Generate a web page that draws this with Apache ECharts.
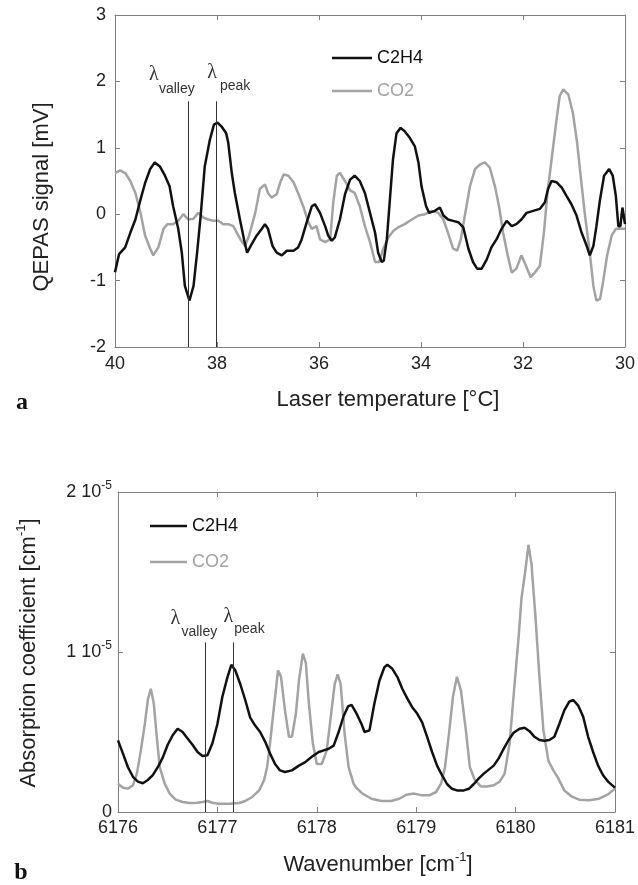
<!DOCTYPE html>
<html>
<head>
<meta charset="utf-8">
<script src="https://cdn.jsdelivr.net/npm/echarts@6/dist/echarts.min.js"></script>
<style>
html,body{margin:0;padding:0;background:#fff;}
#c{width:638px;height:885px;}
</style>
</head>
<body>
<div id="c"></div>
<script>
// ---------- Panel a: QEPAS signal vs laser temperature ----------
var tempC2H4 = [40.0,39.92,39.8,39.7,39.6,39.5,39.41,39.31,39.22,39.12,39.02,38.93,38.86,38.76,38.69,38.63,38.54,38.46,38.39,38.32,38.24,38.14,38.06,37.99,37.91,37.82,37.78,37.71,37.65,37.55,37.47,37.41,37.32,37.22,37.12,37.06,37.0,36.91,36.83,36.73,36.63,36.5,36.41,36.34,36.24,36.14,36.08,35.98,35.88,35.82,35.75,35.69,35.59,35.49,35.39,35.3,35.2,35.1,35.0,34.9,34.84,34.77,34.73,34.67,34.61,34.55,34.48,34.4,34.32,34.22,34.12,34.05,33.99,33.9,33.84,33.73,33.63,33.56,33.47,33.37,33.27,33.17,33.07,32.98,32.9,32.81,32.71,32.62,32.52,32.42,32.32,32.22,32.13,32.03,31.93,31.8,31.67,31.57,31.51,31.44,31.34,31.24,31.15,31.05,30.95,30.85,30.75,30.69,30.62,30.56,30.49,30.41,30.31,30.24,30.18,30.13,30.09,30.05,30.0];
var qepasC2H4 = [-0.875,-0.6,-0.5,-0.28,-0.08,0.22,0.47,0.68,0.78,0.72,0.58,0.42,0.12,-0.22,-0.58,-1.08,-1.3,-1.08,-0.58,-0.02,0.72,1.12,1.35,1.38,1.32,1.22,1.08,0.62,0.32,-0.08,-0.38,-0.58,-0.45,-0.32,-0.22,-0.15,-0.22,-0.48,-0.58,-0.62,-0.55,-0.55,-0.5,-0.38,-0.12,0.12,0.15,0.02,-0.18,-0.32,-0.4,-0.35,-0.08,0.3,0.52,0.58,0.5,0.32,0.02,-0.28,-0.58,-0.72,-0.7,-0.38,0.22,0.82,1.22,1.3,1.25,1.15,1.02,0.78,0.42,0.12,0.02,0.05,0.1,-0.02,-0.08,-0.1,-0.12,-0.2,-0.52,-0.72,-0.82,-0.82,-0.68,-0.5,-0.38,-0.22,-0.1,-0.18,-0.15,-0.08,0.02,0.05,0.08,0.18,0.38,0.5,0.48,0.4,0.28,0.15,-0.02,-0.28,-0.48,-0.62,-0.48,-0.18,0.22,0.58,0.68,0.58,0.28,-0.18,-0.18,0.1,-0.15];
var tempCO2 = [40.0,39.9,39.8,39.7,39.6,39.5,39.41,39.31,39.25,39.15,39.05,38.97,38.86,38.76,38.66,38.56,38.46,38.37,38.27,38.17,38.07,37.97,37.88,37.78,37.68,37.61,37.54,37.45,37.37,37.25,37.16,37.06,37.0,36.93,36.83,36.76,36.69,36.6,36.5,36.41,36.31,36.21,36.14,36.05,35.98,35.88,35.78,35.72,35.65,35.59,35.49,35.39,35.3,35.2,35.1,35.0,34.9,34.82,34.74,34.64,34.54,34.45,34.32,34.18,34.05,33.92,33.79,33.66,33.56,33.47,33.37,33.29,33.22,33.14,33.04,32.94,32.84,32.75,32.65,32.55,32.47,32.39,32.3,32.22,32.13,32.03,31.94,31.85,31.77,31.67,31.59,31.52,31.44,31.35,31.28,31.21,31.11,31.02,30.94,30.87,30.79,30.7,30.62,30.56,30.49,30.43,30.35,30.26,30.18,30.07,30.0];
var qepasCO2 = [0.62,0.66,0.62,0.5,0.32,0.02,-0.32,-0.52,-0.62,-0.5,-0.22,-0.15,-0.15,-0.1,0.0,-0.08,-0.07,0.02,-0.05,-0.08,-0.1,-0.1,-0.15,-0.15,-0.18,-0.28,-0.38,-0.48,-0.32,0.02,0.38,0.45,0.32,0.25,0.3,0.48,0.6,0.58,0.48,0.32,0.12,-0.12,-0.22,-0.18,-0.38,-0.42,-0.38,0.18,0.58,0.62,0.5,0.36,0.32,0.12,-0.18,-0.42,-0.72,-0.72,-0.52,-0.35,-0.25,-0.2,-0.15,-0.08,-0.02,0.0,0.05,0.02,-0.08,-0.28,-0.52,-0.55,-0.38,-0.02,0.42,0.68,0.75,0.78,0.7,0.42,0.12,-0.28,-0.62,-0.88,-0.82,-0.62,-0.78,-0.95,-0.88,-0.78,-0.28,0.32,0.82,1.38,1.78,1.88,1.8,1.52,1.08,0.58,0.02,-0.52,-1.08,-1.3,-1.28,-1.02,-0.62,-0.32,-0.22,-0.22,-0.22];
var tempTicks = {min: 30, max: 40, step: 2};
var qepasTicks = {min: -2, max: 3, step: 1};
var lambdaTempA = {valley: 38.57, peak: 38.02, top: 1.7};

// ---------- Panel b: absorption coefficient (units of 1e-5 cm^-1) vs wavenumber ----------
var wnC2H4 = [6176.0,6176.05,6176.1,6176.15,6176.2,6176.25,6176.3,6176.35,6176.4,6176.45,6176.5,6176.55,6176.6,6176.65,6176.7,6176.75,6176.8,6176.85,6176.9,6176.95,6177.0,6177.05,6177.1,6177.14,6177.18,6177.23,6177.28,6177.33,6177.38,6177.43,6177.48,6177.53,6177.58,6177.63,6177.68,6177.75,6177.82,6177.88,6177.95,6178.02,6178.07,6178.12,6178.17,6178.22,6178.27,6178.315,6178.35,6178.4,6178.45,6178.48,6178.53,6178.58,6178.63,6178.68,6178.71,6178.76,6178.81,6178.86,6178.91,6178.96,6179.01,6179.06,6179.11,6179.16,6179.21,6179.26,6179.31,6179.36,6179.41,6179.48,6179.53,6179.58,6179.63,6179.68,6179.73,6179.78,6179.83,6179.88,6179.93,6179.98,6180.04,6180.09,6180.14,6180.19,6180.24,6180.29,6180.34,6180.39,6180.44,6180.49,6180.54,6180.58,6180.63,6180.68,6180.73,6180.78,6180.83,6180.88,6180.93,6181.0];
var absC2H4 = [0.448,0.365,0.28,0.22,0.19,0.18,0.2,0.23,0.28,0.34,0.42,0.48,0.52,0.5,0.46,0.42,0.375,0.35,0.355,0.43,0.55,0.72,0.84,0.92,0.885,0.8,0.7,0.59,0.54,0.5,0.44,0.365,0.3,0.26,0.25,0.26,0.29,0.31,0.345,0.375,0.385,0.395,0.415,0.5,0.6,0.66,0.67,0.615,0.55,0.5,0.51,0.68,0.82,0.905,0.92,0.895,0.845,0.77,0.71,0.655,0.615,0.56,0.47,0.375,0.29,0.23,0.175,0.145,0.135,0.135,0.145,0.175,0.21,0.24,0.265,0.29,0.335,0.395,0.45,0.495,0.52,0.527,0.505,0.47,0.45,0.445,0.45,0.47,0.55,0.635,0.69,0.7,0.665,0.595,0.47,0.375,0.29,0.23,0.19,0.152];
var wnCO2 = [6176.0,6176.05,6176.1,6176.15,6176.19,6176.23,6176.27,6176.3,6176.33,6176.36,6176.39,6176.42,6176.47,6176.52,6176.58,6176.65,6176.72,6176.78,6176.85,6176.9,6176.95,6177.02,6177.12,6177.22,6177.28,6177.35,6177.42,6177.47,6177.5,6177.53,6177.57,6177.61,6177.64,6177.68,6177.72,6177.75,6177.79,6177.82,6177.86,6177.89,6177.92,6177.96,6178.0,6178.05,6178.1,6178.14,6178.18,6178.21,6178.24,6178.28,6178.32,6178.37,6178.4,6178.46,6178.55,6178.65,6178.75,6178.83,6178.9,6178.98,6179.06,6179.13,6179.2,6179.25,6179.29,6179.33,6179.37,6179.41,6179.45,6179.5,6179.54,6179.59,6179.65,6179.71,6179.78,6179.84,6179.89,6179.94,6179.99,6180.03,6180.06,6180.09,6180.13,6180.16,6180.2,6180.24,6180.28,6180.33,6180.38,6180.43,6180.49,6180.56,6180.64,6180.74,6180.84,6180.93,6181.0];
var absCO2 = [0.177,0.152,0.146,0.167,0.24,0.385,0.55,0.7,0.77,0.68,0.47,0.28,0.177,0.115,0.077,0.0625,0.056,0.056,0.0625,0.069,0.058,0.052,0.052,0.056,0.069,0.094,0.135,0.2,0.28,0.43,0.66,0.885,0.845,0.635,0.47,0.47,0.615,0.82,0.99,0.93,0.68,0.43,0.3,0.3,0.385,0.59,0.8,0.86,0.8,0.49,0.28,0.177,0.15,0.115,0.083,0.069,0.069,0.083,0.108,0.115,0.104,0.104,0.125,0.177,0.28,0.49,0.72,0.845,0.76,0.51,0.28,0.2,0.16,0.16,0.167,0.19,0.24,0.43,0.8,1.09,1.34,1.47,1.67,1.55,1.22,0.845,0.51,0.32,0.26,0.21,0.135,0.098,0.077,0.073,0.083,0.11,0.146];
var wnTicks = {min: 6176, max: 6181, step: 1};
var absTicks = {min: 0, max: 2, step: 1};
var absTickLabels = ['0', '1 10', '2 10'];
var lambdaWnB = {valley: 6176.88, peak: 6177.16, top: 1.06};

var seriesNames = ['C2H4', 'CO2'];
var colC2H4 = '#111111', colCO2 = '#a3a3a3';
var frameCol = '#808080', labCol = '#222';
var FONT = '"Liberation Sans", Arial, sans-serif';

function pairs(xs, ys){ return xs.map(function(x,i){ return [x, ys[i]]; }); }

var chart = echarts.init(document.getElementById('c'), null, {renderer:'canvas'});

function frameAxis(base, extra){
  var o = {
    type:'value', min: base.min, max: base.max, interval: base.step,
    axisLine:{show:true, onZero:false, lineStyle:{color:frameCol, width:1}},
    axisTick:{show:true, inside:true, length:5, lineStyle:{color:frameCol}},
    splitLine:{show:false},
    axisLabel:{show:false}
  };
  for (var k in extra) o[k] = extra[k];
  return o;
}

var vlineStyle = {color:'#333', width:1, type:'solid'};
var legendData = [{name:'C2H4', icon:'rect', itemStyle:{color:colC2H4}, textStyle:{color:colC2H4}},
                  {name:'CO2', icon:'rect', itemStyle:{color:colCO2}, textStyle:{color:colCO2}}];

var option = {
  animation:false,
  backgroundColor:'#fff',
  textStyle:{fontFamily: FONT},
  grid:[
    {left:115, top:15, width:511, height:332},
    {left:118, top:492, width:501, height:320}
  ],
  xAxis:[
    frameAxis(tempTicks, {gridIndex:0, position:'bottom', inverse:true,
      axisLabel:{show:true, fontSize:18, color:labCol, margin:8, fontFamily:FONT}}),
    frameAxis(tempTicks, {gridIndex:0, position:'top', inverse:true}),
    frameAxis(wnTicks, {gridIndex:1, position:'bottom',
      axisLabel:{show:true, fontSize:18, color:labCol, margin:7, fontFamily:FONT,
        formatter:function(v){ return String(Math.round(v)); }}}),
    frameAxis(wnTicks, {gridIndex:1, position:'top'})
  ],
  yAxis:[
    frameAxis(qepasTicks, {gridIndex:0, position:'left',
      axisLabel:{show:true, fontSize:18, color:labCol, margin:9, fontFamily:FONT}}),
    frameAxis(qepasTicks, {gridIndex:0, position:'right'}),
    frameAxis(absTicks, {gridIndex:1, position:'left',
      axisLabel:{show:true, fontSize:18, color:labCol, margin:6, fontFamily:FONT,
        formatter:function(v){ var i = Math.round(v); return i === 0 ? absTickLabels[0] : '{a|' + absTickLabels[i] + '}{s|-5}'; },
        rich:{a:{fontSize:18, color:labCol, lineHeight:24, fontFamily:FONT},
              s:{fontSize:12, color:labCol, verticalAlign:'top', lineHeight:14, fontFamily:FONT}}}}),
    frameAxis(absTicks, {gridIndex:1, position:'right'})
  ],
  legend:[
    {orient:'vertical', left:327, top:43, itemWidth:40, itemHeight:2.5, itemGap:13,
     data:legendData, textStyle:{fontSize:18, fontFamily:FONT, lineHeight:20}, selectedMode:false},
    {orient:'vertical', left:145, top:511, itemWidth:37, itemHeight:2.5, itemGap:16,
     data:legendData, textStyle:{fontSize:18, fontFamily:FONT, lineHeight:20}, selectedMode:false}
  ],
  series:[
    {name:seriesNames[1], type:'line', xAxisIndex:0, yAxisIndex:0, data:pairs(tempCO2, qepasCO2),
     symbol:'none', lineStyle:{color:colCO2, width:2.5}, itemStyle:{color:colCO2}, z:2},
    {name:seriesNames[0], type:'line', xAxisIndex:0, yAxisIndex:0, data:pairs(tempC2H4, qepasC2H4),
     symbol:'none', lineStyle:{color:colC2H4, width:2.5}, itemStyle:{color:colC2H4}, z:3,
     markLine:{silent:true, symbol:'none', label:{show:false}, lineStyle:vlineStyle,
       data:[[{coord:[lambdaTempA.valley, qepasTicks.min]},{coord:[lambdaTempA.valley, lambdaTempA.top]}],
             [{coord:[lambdaTempA.peak, qepasTicks.min]},{coord:[lambdaTempA.peak, lambdaTempA.top]}]]}},
    {name:seriesNames[1], type:'line', xAxisIndex:2, yAxisIndex:2, data:pairs(wnCO2, absCO2),
     symbol:'none', lineStyle:{color:colCO2, width:2.5}, itemStyle:{color:colCO2}, z:2},
    {name:seriesNames[0], type:'line', xAxisIndex:2, yAxisIndex:2, data:pairs(wnC2H4, absC2H4),
     symbol:'none', lineStyle:{color:colC2H4, width:2.5}, itemStyle:{color:colC2H4}, z:3,
     markLine:{silent:true, symbol:'none', label:{show:false}, lineStyle:vlineStyle,
       data:[[{coord:[lambdaWnB.valley, absTicks.min]},{coord:[lambdaWnB.valley, lambdaWnB.top]}],
             [{coord:[lambdaWnB.peak, absTicks.min]},{coord:[lambdaWnB.peak, lambdaWnB.top]}]]}}
  ]
};
chart.setOption(option);

// annotation texts tied to the data positions of the marker lines
function lam(x, y){ return {type:'text', x:x, y:y, style:{text:'\u03bb', fontSize:20, fontFamily:'"Liberation Serif", serif', fill:'#333', align:'center', verticalAlign:'middle'}}; }
function sub(x, y, t){ return {type:'text', x:x, y:y, style:{text:t, fontSize:14, fontFamily:FONT, fill:'#333', align:'left', verticalAlign:'middle'}}; }

var fa = {xAxisIndex:0, yAxisIndex:0}, fb = {xAxisIndex:2, yAxisIndex:2};
var av = chart.convertToPixel(fa, [lambdaTempA.valley, lambdaTempA.top]);
var ap = chart.convertToPixel(fa, [lambdaTempA.peak, lambdaTempA.top]);
var bv = chart.convertToPixel(fb, [lambdaWnB.valley, lambdaWnB.top]);
var bp = chart.convertToPixel(fb, [lambdaWnB.peak, lambdaWnB.top]);

var graphics = [
  lam(av[0]-34, av[1]-27), sub(av[0]-29, av[1]-12, 'valley'),
  lam(ap[0]-4, ap[1]-29), sub(ap[0]+4, ap[1]-15, 'peak'),
  lam(bv[0]-30, bv[1]-24), sub(bv[0]-24, bv[1]-10, 'valley'),
  lam(bp[0]-5, bp[1]-26), sub(bp[0]+1, bp[1]-13, 'peak'),
  // axis titles
  {type:'text', x:388, y:400, style:{text:'Laser temperature [\u00b0C]', fontSize:22, fontFamily:FONT, fill:labCol, align:'center', verticalAlign:'middle'}},
  {type:'text', x:42, y:197, rotation:Math.PI/2, style:{text:'QEPAS signal [mV]', fontSize:22, fontFamily:FONT, fill:labCol, align:'center', verticalAlign:'middle'}},
  {type:'text', x:378, y:865, style:{text:'{a|Wavenumber [cm}{s|-1}{a|]}', align:'center', verticalAlign:'middle',
     rich:{a:{fontSize:22, fontFamily:FONT, fill:labCol, color:labCol, lineHeight:28}, s:{fontSize:13, fontFamily:FONT, fill:labCol, color:labCol, verticalAlign:'top', lineHeight:16}}}},
  {type:'text', x:29, y:653, rotation:Math.PI/2, style:{text:'{a|Absorption coefficient [cm}{s|-1}{a|]}', align:'center', verticalAlign:'middle',
     rich:{a:{fontSize:22, fontFamily:FONT, fill:labCol, color:labCol, lineHeight:28}, s:{fontSize:13, fontFamily:FONT, fill:labCol, color:labCol, verticalAlign:'top', lineHeight:16}}}},
  // panel letters
  {type:'text', x:22, y:403, style:{text:'a', fontSize:24, fontWeight:'bold', fontFamily:'"Liberation Serif", serif', fill:'#111', align:'center', verticalAlign:'middle'}},
  {type:'text', x:21, y:873, style:{text:'b', fontSize:24, fontWeight:'bold', fontFamily:'"Liberation Serif", serif', fill:'#111', align:'center', verticalAlign:'middle'}}
];
chart.setOption({graphic: graphics});
</script>
</body>
</html>
